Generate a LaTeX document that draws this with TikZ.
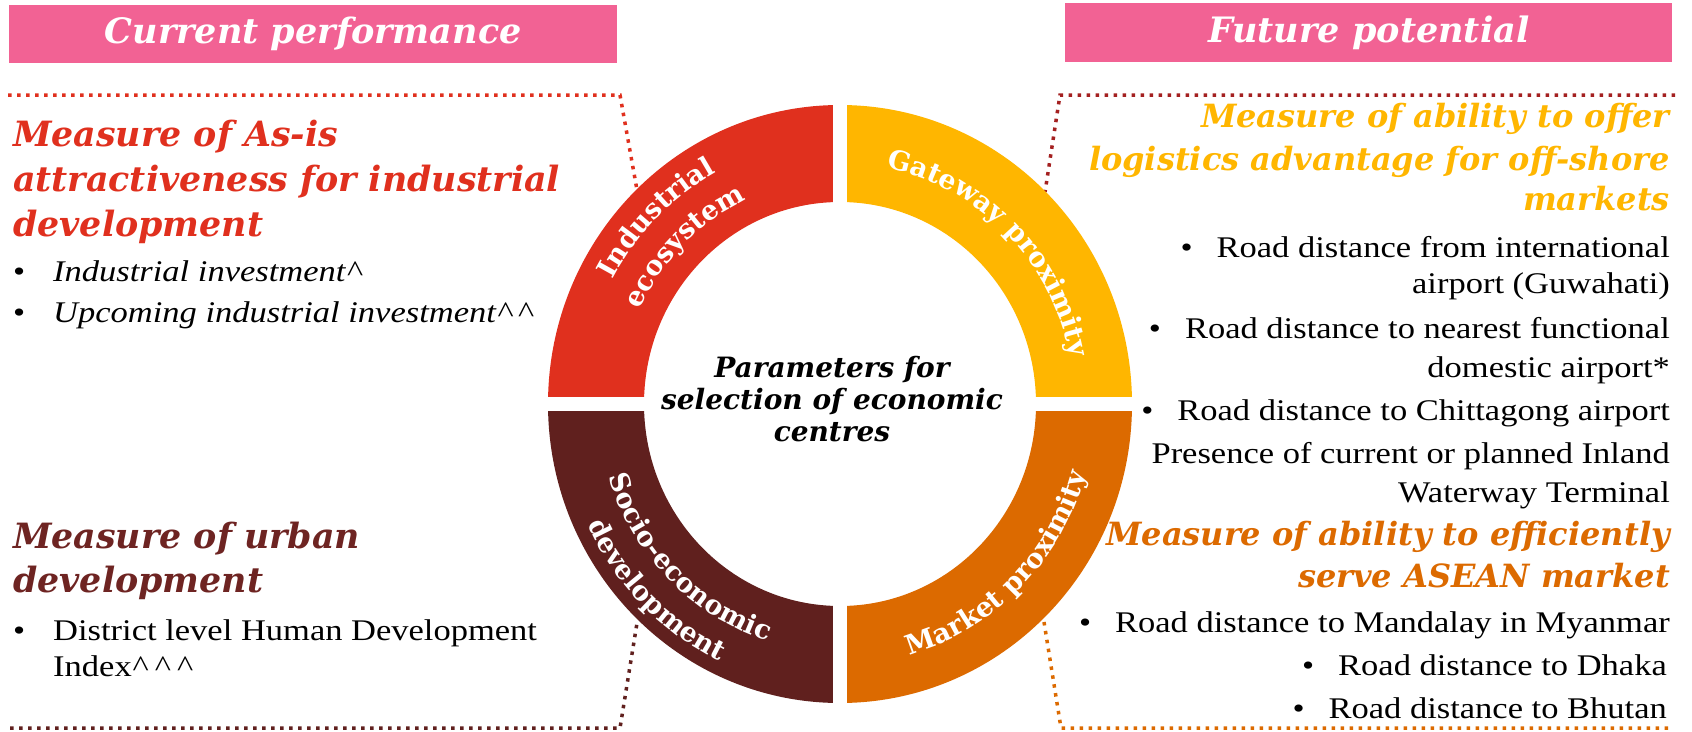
\documentclass[tikz,border=0pt]{standalone}
\usepackage{fontspec}
\usetikzlibrary{decorations.text}
\newfontfamily\bodyfont{Liberation Serif}[FakeStretch=1.15]
\newfontfamily\headfont{DejaVu Serif}
\definecolor{hpink}{RGB}{242,98,148}
\definecolor{indred}{RGB}{224,48,30}
\definecolor{gateyel}{RGB}{255,182,0}
\definecolor{mktorg}{RGB}{220,106,0}
\definecolor{socmar}{RGB}{96,32,30}
\definecolor{dkred}{RGB}{164,32,32}
\definecolor{urbmar}{RGB}{110,36,34}
\tikzset{
  hdr/.style={fill=hpink, text=white, inner sep=0pt, font=\headfont\bfseries\itshape\fontsize{35}{40}\selectfont},
  headtxt/.style={inner sep=0pt, font=\headfont\bfseries\itshape\fontsize{32}{38}\selectfont},
  lheadtxt/.style={inner sep=0pt, font=\headfont\bfseries\itshape\fontsize{34.8}{40}\selectfont},
  bodytxt/.style={inner sep=0pt, text=black, font=\bodyfont\fontsize{30}{36}\selectfont},
  ctrtxt/.style={inner sep=0pt, align=center, font=\headfont\bfseries\itshape\fontsize{28}{32}\selectfont},
  dotline/.style={line width=3.5pt, dash pattern=on 3.5pt off 5.5pt},
  ringtext/.style={decorate, decoration={text along path, text align=center, text color=white}}
}
\newcommand{\ringfont}{\headfont\bfseries\fontsize{27}{30}\selectfont}
\newcommand{\caret}{\kern1pt\textasciicircum\kern5pt}
\begin{document}
\begin{tikzpicture}[x=1pt,y=1pt]
\useasboundingbox (0,0) rectangle (1692,-731);
\fill[white] (0,0) rectangle (1692,-731);

% headers
\node[hdr, minimum width=608pt, minimum height=58pt, anchor=north west] (hcur) at (9,-5) {Current performance};
\node[hdr, minimum width=607pt, minimum height=59pt, anchor=north west] (hfut) at (1065,-3) {Future potential};

% dotted brackets
\coordinate (lt1) at (8,-95);
\coordinate (lt2) at (620,-95);
\coordinate (lt3) at (637,-190);
\draw[dotline, indred] (lt1) -- (lt2) -- (lt3);
\coordinate (rt1) at (1675,-95);
\coordinate (rt2) at (1060,-95);
\coordinate (rt3) at (1045,-192);
\draw[dotline, dkred] (rt1) -- (rt2) -- (rt3);
\coordinate (lb1) at (10,-728);
\coordinate (lb2) at (620,-728);
\coordinate (lb3) at (637,-623);
\draw[dotline, socmar] (lb1) -- (lb2) -- (lb3);
\coordinate (rb1) at (1044,-622);
\coordinate (rb2) at (1061,-728);
\coordinate (rb3) at (1672,-728);
\draw[dotline, mktorg] (rb1) -- (rb2) -- (rb3);

% ring
\coordinate (c) at (840,-404);
\fill[indred] (c) ++(0,299) arc[start angle=90, end angle=180, x radius=292, y radius=299] -- ++(96,0) arc[start angle=180, end angle=90, x radius=196, y radius=202] -- cycle;
\fill[gateyel] (c) ++(292,0) arc[start angle=0, end angle=90, x radius=292, y radius=299] -- ++(0,-97) arc[start angle=90, end angle=0, x radius=196, y radius=202] -- cycle;
\fill[mktorg] (c) ++(0,-299) arc[start angle=270, end angle=360, x radius=292, y radius=299] -- ++(-96,0) arc[start angle=360, end angle=270, x radius=196, y radius=202] -- cycle;
\fill[socmar] (c) ++(-292,0) arc[start angle=180, end angle=270, x radius=292, y radius=299] -- ++(0,97) arc[start angle=270, end angle=180, x radius=196, y radius=202] -- cycle;
\fill[white] ([xshift=-300pt, yshift=-7pt]c) rectangle ([xshift=300pt, yshift=7pt]c);
\fill[white] ([xshift=-7pt, yshift=-305pt]c) rectangle ([xshift=7pt, yshift=305pt]c);

% ring labels
\path[ringtext, decoration={text={|\ringfont|Industrial}}] (c) ++(178:{258} and {264}) arc[start angle=178, end angle=92, x radius=258, y radius=264];
\path[ringtext, decoration={text={|\ringfont|ecosystem}}] (c) ++(178:{220} and {226}) arc[start angle=178, end angle=92, x radius=220, y radius=226];
\path[ringtext, decoration={text={|\ringfont|Gateway proximity}}] (c) ++(88:{235} and {241}) arc[start angle=88, end angle=2, x radius=235, y radius=241];
\path[ringtext, decoration={text={|\ringfont|Market proximity}}] (c) ++(272:{255} and {261}) arc[start angle=272, end angle=358, x radius=255, y radius=261];
\path[ringtext, decoration={text={|\ringfont|Socio-economic}}] (c) ++(182:{242} and {248}) arc[start angle=182, end angle=268, x radius=242, y radius=248];
\path[ringtext, decoration={text={|\ringfont|development}}] (c) ++(182:{279} and {285}) arc[start angle=182, end angle=268, x radius=279, y radius=285];

\node[ctrtxt] (ctr) at (832,-399) {Parameters for\\selection of economic\\centres};

% left top block
\node[lheadtxt, text=indred, anchor=base west] (l1) at (13,-146) {Measure of As-is};
\node[lheadtxt, text=indred, anchor=base west] (l2) at (13,-191) {attractiveness for industrial};
\node[lheadtxt, text=indred, anchor=base west] (l3) at (13,-236) {development};
\node[bodytxt, anchor=base west] (lb1t) at (13,-281) {\makebox[40pt][l]{\textbullet}\itshape Industrial investment\caret};
\node[bodytxt, anchor=base west] (lb2t) at (13,-322) {\makebox[40pt][l]{\textbullet}\itshape Upcoming industrial investment\caret\caret};

% left bottom block
\node[lheadtxt, text=urbmar, anchor=base west] (u1) at (13,-548) {Measure of urban};
\node[lheadtxt, text=urbmar, anchor=base west] (u2) at (13,-592) {development};
\node[bodytxt, anchor=base west] (u3) at (13,-640) {\makebox[40pt][l]{\textbullet}District level Human Development};
\node[bodytxt, anchor=base west] (u4) at (53,-676) {Index\caret\caret\caret};

% right top block
\node[headtxt, text=gateyel, anchor=base east] (r1) at (1670,-127) {Measure of ability to offer};
\node[headtxt, text=gateyel, anchor=base east] (r2) at (1670,-170) {logistics advantage for off-shore};
\node[headtxt, text=gateyel, anchor=base east] (r3) at (1670,-210) {markets};
\node[bodytxt, anchor=base east] (r4) at (1670,-257) {\textbullet\hspace{24pt}Road distance from international};
\node[bodytxt, anchor=base east] (r5) at (1670,-293) {airport (Guwahati)};
\node[bodytxt, anchor=base east] (r6) at (1670,-338) {\textbullet\hspace{24pt}Road distance to nearest functional};
\node[bodytxt, anchor=base east] (r7) at (1670,-377) {domestic airport*};
\node[bodytxt, anchor=base east] (r8) at (1670,-420) {\textbullet\hspace{24pt}Road distance to Chittagong airport};
\node[bodytxt, anchor=base east] (r9) at (1670,-463) {Presence of current or planned Inland};
\node[bodytxt, anchor=base east] (r10) at (1670,-502) {Waterway Terminal};

% right bottom block
\node[headtxt, text=mktorg, anchor=base east] (m1) at (1670,-545) {Measure of ability to efficiently};
\node[headtxt, text=mktorg, anchor=base east] (m2) at (1670,-587) {serve ASEAN market};
\node[bodytxt, anchor=base east] (m3) at (1670,-632) {\textbullet\hspace{24pt}Road distance to Mandalay in Myanmar};
\node[bodytxt, anchor=base east] (m4) at (1667,-675) {\textbullet\hspace{24pt}Road distance to Dhaka};
\node[bodytxt, anchor=base east] (m5) at (1667,-718) {\textbullet\hspace{24pt}Road distance to Bhutan};
\end{tikzpicture}
\end{document}
